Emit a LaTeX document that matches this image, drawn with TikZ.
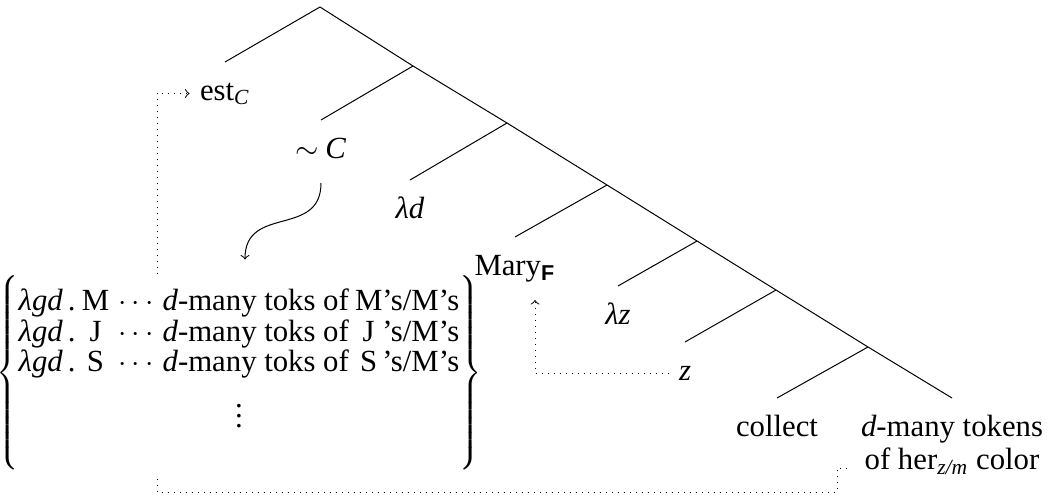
\documentclass[tikz,border=0pt]{standalone}
\usepackage{fontspec}
\setmainfont{Liberation Serif}
\newfontfamily\helv{Liberation Sans}
\usetikzlibrary{calc}
\begin{document}
\begin{tikzpicture}[x=0.4pt,y=-0.4pt,
  edge/.style={line width=0.4pt},
  leaf/.style={anchor=north, inner xsep=4pt, inner ysep=0pt, text height=15.2pt, text depth=9.6pt},
  link/.style={dotted, line width=0.4pt},
  font=\fontsize{12.3}{13.2}\selectfont]
\useasboundingbox[fill=white] (0,0) rectangle (1052,499);
% branching points
\coordinate (b0) at (320,7);
\coordinate (b1) at (413,66);
\coordinate (b2) at (507,123);
\coordinate (b3) at (607,185);
\coordinate (b4) at (697,241);
\coordinate (b5) at (776,290);
\coordinate (b6) at (868,347);
% leaves
\node[leaf] (est) at (225,62) {est\textsubscript{\textit{C}}};
\node[leaf] (simC) at (321,120) {$\sim$\hspace{0.2em}\textit{C}};
\node[leaf] (lamd) at (410,180) {\textit{λd}};
\node[leaf] (mary) at (515,237) {Mary\textsubscript{\helv\bfseries F}};
\node[leaf] (lamz) at (618,286) {\textit{λz}};
\node[leaf] (z) at (685,342) {\textit{z}};
\node[leaf] (collect) at (777,398) {collect};
\node[anchor=north, inner xsep=4pt, inner ysep=0pt] (dmany) at (952,398)
  {\begin{tabular}{@{}c@{}}\rule{0pt}{15.2pt}\textit{d}-many tokens\\ of her\textsubscript{\textit{z/m}} color\end{tabular}};
% tree edges
\draw[edge] (b0) -- (b1) -- (b2) -- (b3) -- (b4) -- (b5) -- (b6) -- (dmany.north);
\draw[edge] (b0) -- (est.north);
\draw[edge] (b1) -- (simC.north);
\draw[edge] (b2) -- (lamd.north);
\draw[edge] (b3) -- (mary.north);
\draw[edge] (b4) -- (lamz.north);
\draw[edge] (b5) -- (z.north);
\draw[edge] (b6) -- (collect.north);
% set of alternatives
\node[inner sep=0pt] (mat) at (239,372.5) {\delimitershortfall=0pt\delimiterfactor=980 \def\arraystretch{0.894}$\left\{\vcenter{\hbox{\begin{tabular}{@{}l@{\hspace{0.2em}}c@{\hspace{0.3em}}c@{\hspace{0.3em}}l@{\hspace{0.2em}}c@{}l@{}}
\rule{0pt}{11.6pt}\textit{λgd}\,. & M & $\cdots$ & \textit{d}-many toks of & M & ’s/M’s\\
\textit{λgd}\,. & J & $\cdots$ & \textit{d}-many toks of & J & ’s/M’s\\
\textit{λgd}\,. & S & $\cdots$ & \textit{d}-many toks of & S & ’s/M’s\\
\multicolumn{6}{c}{\rule[-14.4pt]{0pt}{32.9pt}$\vdots$}
\end{tabular}}}\right\}$};
\coordinate (matTopL) at ($(mat.north)+(-82,0)$);
\coordinate (matTopC) at ($(mat.north)+(6,-15)$);
\coordinate (matBotL) at ($(mat.south)+(-82,8)$);
\coordinate (bend) at (837,492);
% connectors
\draw[edge,->] (simC.south) .. controls ($(simC.south)+(0,55)$) and ($(matTopC)+(0,-55)$) .. (matTopC);
\draw[link,->] (matTopL) |- (est.west);
\draw[link,->] (z.west) -| ([xshift=8]mary.south);
\draw[link] (matBotL) |- (bend) |- ([yshift=-12]dmany.west);
\end{tikzpicture}
\end{document}
